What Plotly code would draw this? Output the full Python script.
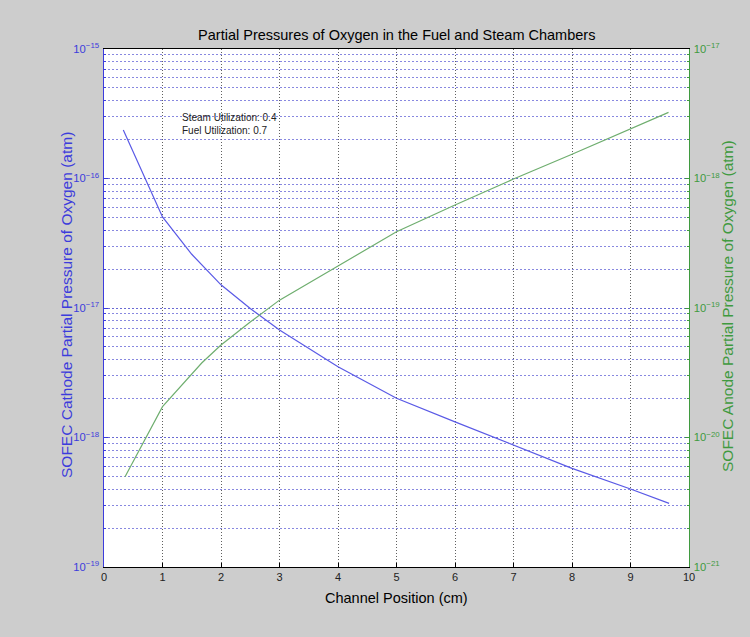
import plotly.graph_objects as go

# Data
cathode_x = [0.33, 1.0, 1.5, 2.0, 2.5, 3.0, 4.0, 5.0, 6.0, 7.0, 8.0, 9.0, 9.66]
cathode_p = [2.37e-16, 5.05e-17, 2.6e-17, 1.51e-17, 9.9e-18, 6.76e-18, 3.52e-18,
             2.01e-18, 1.32e-18, 8.75e-19, 5.78e-19, 4.0e-19, 3.1e-19]

anode_x = [0.36, 1.0, 1.67, 2.0, 2.5, 3.0, 4.0, 5.0, 6.0, 7.0, 8.0, 9.0, 9.65]
anode_p = [4.98e-21, 1.73e-20, 3.76e-20, 5.18e-20, 7.8e-20, 1.15e-19, 2.11e-19,
           3.88e-19, 6.24e-19, 9.9e-19, 1.54e-18, 2.40e-18, 3.24e-18]

title_text = "Partial Pressures of Oxygen in the Fuel and Steam Chambers"
x_title = "Channel Position (cm)"
left_title = "SOFEC Cathode Partial Pressure of Oxygen (atm)"
right_title = "SOFEC Anode Partial Pressure of Oxygen (atm)"
note_text = "Steam Utilization: 0.4<br>Fuel Utilization: 0.7"

BLUE_LINE = "#5a5ae6"
GREEN_LINE = "#6fae6f"
BLUE_AX = "#3c3cdc"
GREEN_AX = "#3f9a3f"
FONT = "Liberation Sans, Arial, sans-serif"

fig = go.Figure()
fig.add_trace(go.Scatter(x=cathode_x, y=cathode_p, mode="lines",
                         line=dict(color=BLUE_LINE, width=1.2), yaxis="y",
                         showlegend=False))
fig.add_trace(go.Scatter(x=anode_x, y=anode_p, mode="lines",
                         line=dict(color=GREEN_LINE, width=1.2), yaxis="y2",
                         showlegend=False))

fig.update_layout(
    width=750, height=637,
    paper_bgcolor="#cdcdcd", plot_bgcolor="white",
    margin=dict(l=104, r=61, t=49, b=70),
    font=dict(family=FONT, size=11, color="black"),
    title=dict(text=title_text, x=0.529, xanchor="center", y=1 - 35 / 637,
               yanchor="middle", font=dict(size=14.5, color="black")),
    xaxis=dict(range=[0, 10], dtick=1, tick0=0, showline=True, linecolor="black",
               linewidth=1, mirror=True, ticks="inside", ticklen=4,
               tickcolor="black", showgrid=True, gridcolor="#606060",
               griddash="1px,2px", gridwidth=1, zeroline=False,
               tickfont=dict(size=11, color="#222222")),
    yaxis=dict(type="log", range=[-19, -15], dtick=1, showline=True,
               linecolor=BLUE_AX, linewidth=1, ticks="inside", ticklen=4,
               tickcolor=BLUE_AX, exponentformat="power",
               ticklabelstandoff=2,
               tickfont=dict(size=9, color=BLUE_AX),
               showgrid=True, gridcolor="#6a6ad4", griddash="2px,2px", gridwidth=1,
               minor=dict(dtick="D1", ticks="inside", ticklen=2, tickcolor=BLUE_AX,
                          showgrid=True, gridcolor="#8888e0", griddash="2px,2px",
                          gridwidth=1),
               zeroline=False),
    yaxis2=dict(type="log", range=[-21, -17], dtick=1, overlaying="y", side="right",
                showline=True, linecolor=GREEN_AX, linewidth=1, ticks="inside",
                ticklen=4, tickcolor=GREEN_AX, exponentformat="power",
                ticklabelstandoff=2,
                tickfont=dict(size=9, color=GREEN_AX), showgrid=False,
                minor=dict(dtick="D1", ticks="inside", ticklen=2,
                           tickcolor=GREEN_AX, showgrid=False),
                zeroline=False),
)

fig.add_annotation(text=note_text, xref="paper", yref="paper",
                   x=(180 - 104) / 585, y=1 - (110 - 49) / 518,
                   xanchor="left", yanchor="top", align="left", showarrow=False,
                   font=dict(size=10, color="#222222"))
fig.add_annotation(text=x_title, xref="paper", yref="paper",
                   x=0.5, y=-(598 - 567) / 518, xanchor="center", yanchor="middle",
                   showarrow=False, font=dict(size=14.5, color="black"))
fig.add_annotation(text=left_title, xref="paper", yref="paper",
                   x=-(104 - 66) / 585, y=1 - (305 - 49) / 518, xanchor="center",
                   yanchor="middle", textangle=-90, showarrow=False,
                   font=dict(size=15.5, color=BLUE_AX))
fig.add_annotation(text=right_title, xref="paper", yref="paper",
                   x=1 + (727 - 689) / 585, y=1 - (306 - 49) / 518,
                   xanchor="center", yanchor="middle", textangle=-90,
                   showarrow=False, font=dict(size=15.5, color=GREEN_AX))

fig.write_html("out.html")
